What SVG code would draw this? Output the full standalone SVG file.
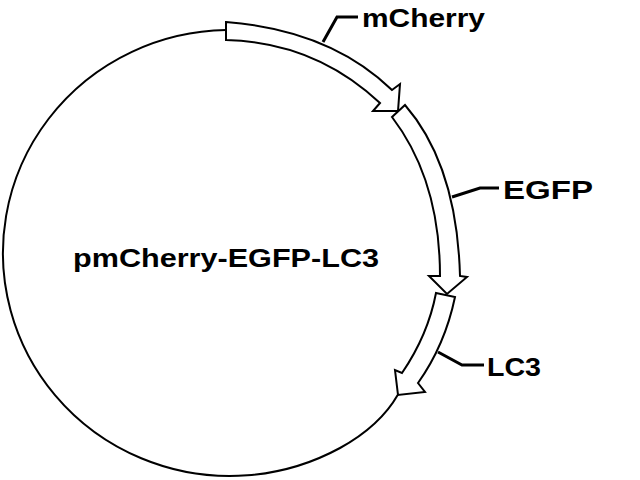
<svg xmlns="http://www.w3.org/2000/svg" width="640" height="480" viewBox="0 0 640 480">
  <style>
    .bb { fill: none; stroke: #000; stroke-width: 2; }
    .gene { fill: #fff; stroke: #000; stroke-width: 2; stroke-linejoin: miter; }
    .lead { fill: none; stroke: #000; stroke-width: 3; }
    .lbl { font-family: "Liberation Sans", Arial, sans-serif; font-weight: bold; font-size: 26px; fill: #000; }
  </style>
  <rect x="0" y="0" width="640" height="480" fill="#fff"/>
  <g id="backbone">
    <path class="bb" d="M226,30 A227,223 0 1 0 340,448 Q380,426 398,394.5"/>
    <text class="lbl" x="73" y="267" textLength="306" lengthAdjust="spacingAndGlyphs">pmCherry-EGFP-LC3</text>
  </g>
  <g id="connectors">
    <polyline class="lead" points="323,42 337,17 358,17"/>
    <polyline class="lead" points="452,197 480,188 499,188"/>
    <polyline class="lead" points="438,352 462,365 484,365"/>
  </g>
  <g id="mCherry">
    <path class="gene" d="M226,22 Q330,30 392,90 L400,84 L398,111 L373,111 L380,103 Q315,42 226,40 Z"/>
    <text class="lbl" x="362" y="27" textLength="123" lengthAdjust="spacingAndGlyphs">mCherry</text>
  </g>
  <g id="EGFP">
    <path class="gene" d="M392,117 L405,105 Q457,165 460,276 L467,277 L447,294 L429,276 L440,276 Q440,180 392,117 Z"/>
    <text class="lbl" x="503" y="199" textLength="90" lengthAdjust="spacingAndGlyphs">EGFP</text>
  </g>
  <g id="LC3">
    <path class="gene" d="M436,293 L455,297 Q445,345 418,383 L425,392 L398,395 L395,370 L402,373 Q428,335 436,293 Z"/>
    <text class="lbl" x="487" y="376" textLength="54" lengthAdjust="spacingAndGlyphs">LC3</text>
  </g>
</svg>
